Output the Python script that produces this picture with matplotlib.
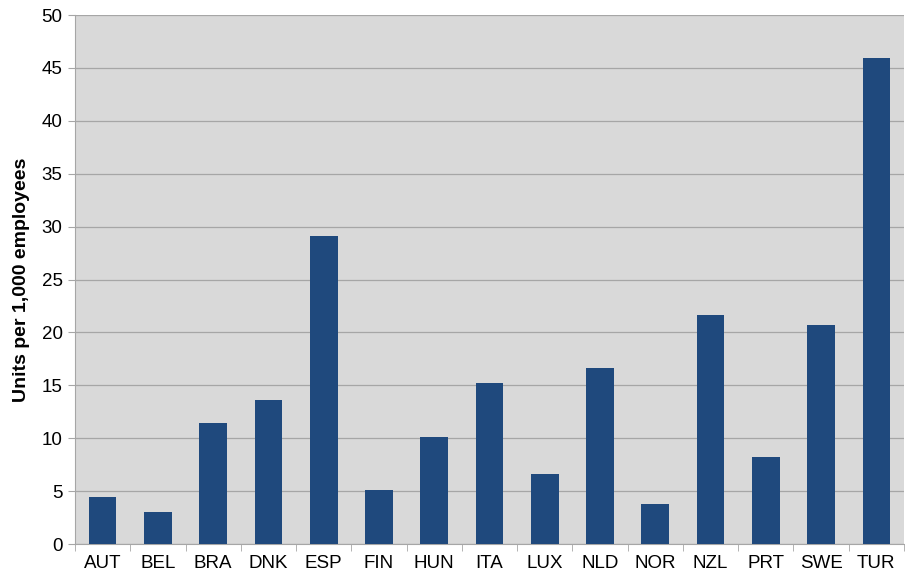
import matplotlib
matplotlib.use("Agg")
import matplotlib.pyplot as plt
import numpy as np

plt.rcParams.update({"font.family": ["Liberation Sans", "DejaVu Sans"], "font.size": 13})

countries = ["AUT", "BEL", "BRA", "DNK", "ESP", "FIN", "HUN", "ITA",
             "LUX", "NLD", "NOR", "NZL", "PRT", "SWE", "TUR"]
units = [4.4, 3.0, 11.4, 13.6, 29.1, 5.1, 10.1, 15.2,
         6.6, 16.6, 3.8, 21.6, 8.2, 20.7, 45.9]
yticks = [0, 5, 10, 15, 20, 25, 30, 35, 40, 45, 50]

fig = plt.figure(figsize=(9.05, 5.78), dpi=100)
ax = fig.add_axes([0.0829, 0.0588, 0.916, 0.9152])
ax.set_facecolor("#D9D9D9")

x = np.arange(len(countries))
ax.bar(x, units, width=0.5, color="#1F497D", zorder=3)

ax.set_xlim(-0.5, len(countries) - 0.5)
ax.set_ylim(0, 50)
ax.set_yticks(yticks)
ax.set_xticks(x)
ax.set_xticklabels(countries)
ax.set_xticks(np.arange(len(countries) + 1) - 0.5, minor=True)
ax.tick_params(axis="x", which="major", length=0, pad=8, labelsize=13.5)
ax.tick_params(axis="x", which="minor", length=5, color="#A6A6A6")
ax.tick_params(axis="y", length=5, color="#A6A6A6", labelsize=13.5, pad=4)
ax.yaxis.grid(True, color="#A6A6A6", lw=0.9, zorder=0)
ax.set_axisbelow(True)

for side in ["top", "right"]:
    ax.spines[side].set_visible(False)
for side in ["left", "bottom"]:
    ax.spines[side].set_color("#A6A6A6")

ax.set_ylabel("Units per 1,000 employees", fontweight="bold", fontsize=14, labelpad=8)

fig.savefig("out.png", dpi=100)
